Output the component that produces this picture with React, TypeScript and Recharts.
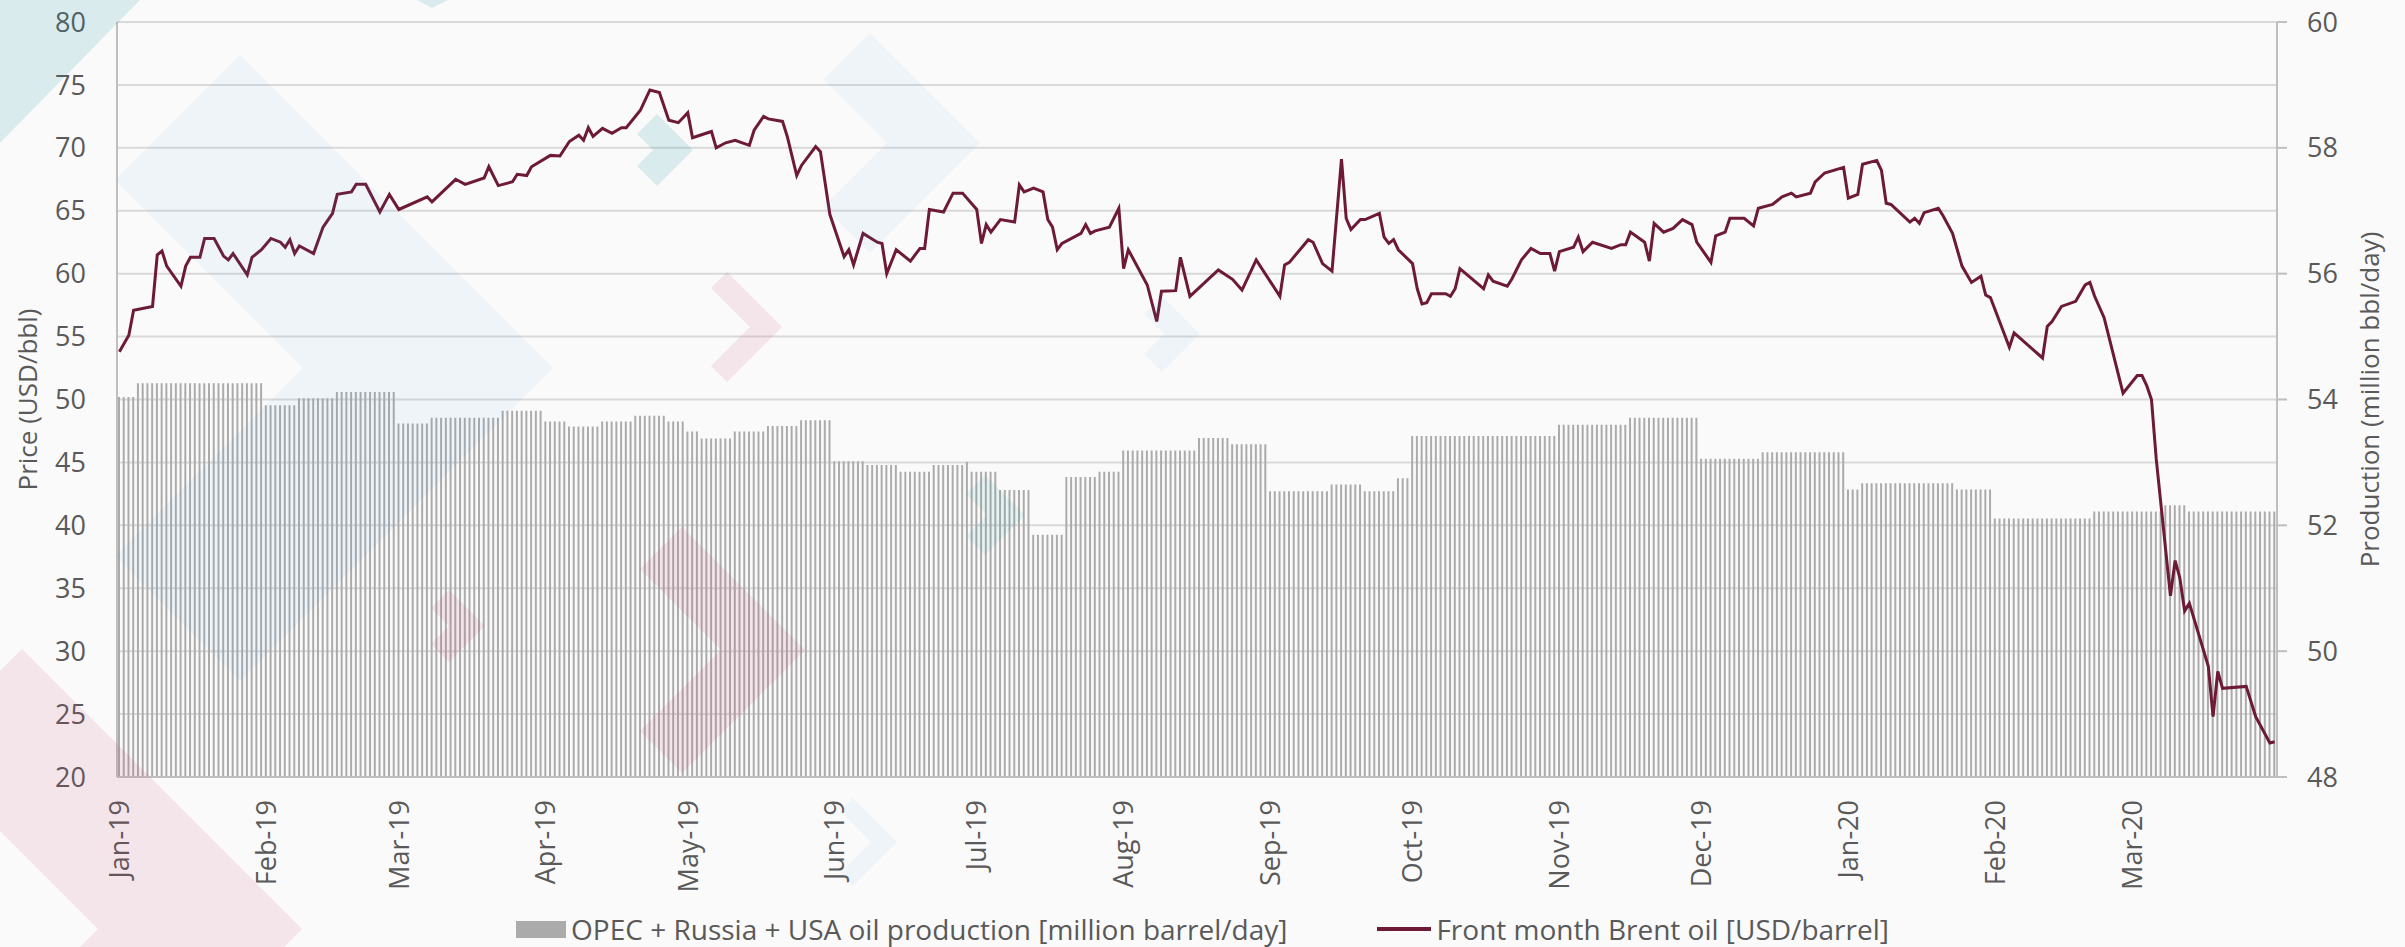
import React from "react";
import {
  Bar,
  CartesianGrid,
  ComposedChart,
  Legend,
  Line,
  XAxis,
  YAxis,
} from "recharts";

const FIRST_DAY = Date.UTC(2019, 0, 1);
const DAY_COUNT = 456;

const monthLabels = [
  "Jan-19", "Feb-19", "Mar-19", "Apr-19", "May-19", "Jun-19", "Jul-19", "Aug-19",
  "Sep-19", "Oct-19", "Nov-19", "Dec-19", "Jan-20", "Feb-20", "Mar-20",
];

const priceTicks = [20, 25, 30, 35, 40, 45, 50, 55, 60, 65, 70, 75, 80];
const productionTicks = [48, 50, 52, 54, 56, 58, 60];

// production level, held from each start day (offset from 1 Jan 2019) until the next one
const productionFromDay = [
  0, 4, 31, 38, 46, 59, 66, 81, 90, 95, 102, 109, 116, 120, 123, 130, 137, 144,
  151, 158, 165, 172, 179, 180, 186, 193, 200, 207, 212, 228, 235, 243, 256, 263,
  270, 273, 304, 319, 334, 347, 365, 368, 388, 396, 417, 432, 437,
];
const productionValue = [
  54.04, 54.26, 53.91, 54.02, 54.12, 53.62, 53.71, 53.82, 53.65, 53.57, 53.65, 53.74,
  53.65, 53.49, 53.38, 53.49, 53.58, 53.67, 53.02, 52.96, 52.85, 52.96, 53.01, 52.85,
  52.56, 51.85, 52.77, 52.85, 53.19, 53.39, 53.29, 52.54, 52.65, 52.54, 52.75, 53.42,
  53.6, 53.71, 53.06, 53.16, 52.57, 52.67, 52.57, 52.11, 52.22, 52.32, 52.22,
];

// front month Brent, day offset from 1 Jan 2019
const brentDay = [
  0, 2, 3, 7, 8, 9, 10, 13, 14, 15, 17, 18, 20, 22, 23, 24, 27, 28, 30, 32, 34, 35,
  36, 37, 38, 41, 43, 45, 46, 49, 50, 52, 55, 57, 59, 65, 66, 71, 73, 77, 78, 80,
  83, 84, 86, 87, 91, 93, 95, 97, 98, 99, 100, 102, 104, 106, 107, 110, 112, 114,
  116, 118, 120, 121, 125, 126, 128, 130, 133, 134, 136, 137, 140, 141, 143, 144,
  147, 148, 150, 153, 154, 155, 157, 160, 161, 162, 164, 167, 169, 170, 171, 174,
  176, 178, 181, 182, 183, 184, 186, 189, 190, 191, 193, 195, 196, 197, 198, 199,
  203, 204, 205, 206, 209, 211, 212, 213, 217, 219, 220, 223, 224, 226, 232, 235,
  237, 240, 245, 246, 247, 251, 252, 254, 256, 258, 259, 260, 262, 263, 266, 267,
  268, 269, 270, 273, 274, 275, 276, 277, 280, 281, 282, 283, 288, 289, 290, 293,
  294, 296, 298, 300, 302, 303, 304, 307, 308, 309, 311, 315, 317, 318, 319, 322,
  323, 324, 326, 328, 330, 332, 333, 336, 337, 339, 340, 343, 345, 346, 349, 351,
  353, 354, 357, 358, 360, 364, 365, 367, 368, 371, 372, 373, 374, 378, 379, 380,
  381, 384, 385, 387, 389, 391, 393, 394, 395, 399, 400, 406, 407, 408, 410, 413,
  415, 416, 417, 419, 423, 426, 427, 428, 429, 430, 433, 434, 435, 436, 437, 441,
  442, 443, 444, 449, 451, 454, 455,
];
const brentPrice = [
  53.8, 55.1, 57.1, 57.4, 61.5, 61.8, 60.6, 59.0, 60.6, 61.3, 61.3, 62.8, 62.8, 61.4,
  61.1, 61.6, 59.9, 61.3, 61.9, 62.8, 62.5, 62.1, 62.7, 61.6, 62.2, 61.6, 63.7, 64.8,
  66.3, 66.5, 67.1, 67.1, 64.9, 66.3, 65.1, 66.1, 65.7, 67.5, 67.1, 67.6, 68.5, 67.0,
  67.3, 67.9, 67.8, 68.5, 69.4, 69.35, 70.5, 71.0, 70.6, 71.6, 70.9, 71.55, 71.15,
  71.6, 71.6, 73.0, 74.6, 74.4, 72.2, 72.0, 72.8, 70.8, 71.3, 70.0, 70.4, 70.6, 70.2,
  71.4, 72.5, 72.3, 72.1, 70.9, 67.8, 68.6, 70.1, 69.7, 64.7, 61.35, 61.9, 60.7, 63.2,
  62.5, 62.4, 60.0, 61.9, 61.0, 62.0, 62.0, 65.1, 64.9, 66.4, 66.4, 65.1, 62.4, 63.9,
  63.3, 64.3, 64.1, 67.05, 66.5, 66.8, 66.5, 64.3, 63.7, 61.9, 62.4, 63.2, 63.9, 63.2,
  63.4, 63.7, 65.2, 60.4, 61.9, 59.1, 56.2, 58.6, 58.65, 61.3, 58.2, 60.3, 59.55,
  58.7, 61.1, 58.2, 60.7, 60.9, 62.7, 62.5, 60.8, 60.2, 69.1, 64.4, 63.5, 64.3, 64.3,
  64.8, 62.9, 62.4, 62.7, 61.9, 60.8, 58.8, 57.6, 57.7, 58.4, 58.4, 58.2, 58.8, 60.4,
  58.8, 59.9, 59.4, 59.0, 59.6, 61.1, 62.0, 61.6, 61.6, 60.2, 61.75, 62.1, 62.9,
  61.75, 62.5, 62.0, 62.3, 62.3, 63.3, 62.5, 61.0, 64.0, 63.3, 63.6, 64.3, 63.9, 62.5,
  60.9, 63.0, 63.3, 64.4, 64.4, 63.8, 65.2, 65.5, 66.1, 66.4, 66.1, 66.4, 67.3, 68.0,
  68.45, 66.0, 66.3, 68.7, 69.0, 68.2, 65.6, 65.5, 64.1, 64.4, 64.0, 64.85, 65.2,
  64.6, 63.2, 60.6, 59.3, 59.8, 58.3, 58.1, 54.15, 55.3, 53.3, 55.8, 56.2, 57.4, 57.8,
  59.1, 59.3, 58.2, 56.5, 50.5, 51.9, 51.9, 51.1, 50.0, 45.3, 34.4, 37.2, 35.8, 33.2,
  33.8, 28.8, 24.8, 28.4, 27.05, 27.2, 24.8, 22.7, 22.8,
];

const productionName = "OPEC + Russia + USA oil production [million barrel/day]";
const brentName = "Front month Brent oil [USD/barrel]";

const dates = Array.from({ length: DAY_COUNT }, (_, i) =>
  new Date(FIRST_DAY + i * 86400000).toISOString().slice(0, 10)
);
const monthStarts = dates.filter((d) => d.endsWith("-01"));
const tickLabel: Record<string, string> = Object.fromEntries(
  monthStarts.map((d, i) => [d, monthLabels[i]])
);
const brentByDay = new Map(brentDay.map((d, i) => [d, brentPrice[i]]));

let seg = 0;
const rows = dates.map((date, i) => {
  while (seg + 1 < productionFromDay.length && productionFromDay[seg + 1] <= i) seg++;
  return {
    date,
    production: productionValue[seg],
    brent: brentByDay.has(i) ? brentByDay.get(i) : null,
  };
});

const TEXT = "#595959";
const AXIS = "#bfbfbf";
const BAR = "#ababab";
const LINE = "#6d1a36";

const MonthTick = (props: any) => {
  const { x, y, payload } = props;
  return (
    <text
      x={x}
      y={y}
      dy="0.36em"
      transform={`rotate(-90, ${x}, ${y})`}
      textAnchor="end"
      fill={TEXT}
      fontSize={27}
      fontFamily="Open Sans"
    >
      {tickLabel[payload.value]}
    </text>
  );
};

const LegendBox = () => (
  <div
    style={{
      display: "flex",
      justifyContent: "center",
      alignItems: "center",
      gap: 90,
      fontFamily: "Open Sans",
      fontSize: 28,
      color: TEXT,
      whiteSpace: "nowrap",
    }}
  >
    <span style={{ display: "flex", alignItems: "center" }}>
      <span style={{ width: 50, height: 17, background: BAR, marginRight: 5 }} />
      {productionName}
    </span>
    <span style={{ display: "flex", alignItems: "center" }}>
      <span style={{ width: 54, height: 4, background: LINE, marginRight: 5 }} />
      {brentName}
    </span>
  </div>
);

// decorative chevrons of the page background
const chevron = (tx: number, ty: number, h: number, t: number) =>
  [
    [tx - h, ty - h],
    [tx, ty],
    [tx - h, ty + h],
    [tx - h - t / 2, ty + h - t / 2],
    [tx - t, ty],
    [tx - h - t / 2, ty - h + t / 2],
  ]
    .map((p) => p.join(","))
    .join(" ");

const BLUE = "rgba(60,150,230,0.06)";
const PINK = "rgba(190,60,110,0.11)";
const TEAL = "rgba(30,150,170,0.14)";
const TEAL_SOFT = "rgba(30,150,170,0.09)";

const Decorations = () => (
  <svg
    width={2405}
    height={947}
    style={{ position: "absolute", left: 0, top: 0, pointerEvents: "none" }}
  >
    <polygon points="0,0 140,0 0,143" fill={TEAL} />
    <polygon points="417,0 448,0 432,8" fill={TEAL} />
    <polygon points={chevron(553, 368, 313, 250)} fill={BLUE} />
    <polygon points={chevron(980, 143, 110, 93)} fill={BLUE} />
    <polygon points={chevron(1200, 334, 38, 36)} fill={BLUE} />
    <polygon points={chevron(897, 842, 44, 26)} fill={BLUE} />
    <polygon points={chevron(302, 929, 280, 204)} fill={PINK} />
    <polygon points={chevron(805, 650, 123, 84)} fill={PINK} />
    <polygon points={chevron(485, 626, 36, 36)} fill={PINK} />
    <polygon points={chevron(782, 327, 55, 32)} fill={PINK} />
    <polygon points={chevron(693, 150, 36, 40)} fill={TEAL} />
    <polygon points={chevron(1025, 515, 40, 38)} fill={TEAL_SOFT} />
  </svg>
);

export default function App() {
  return (
    <div
      style={{
        position: "absolute",
        left: 0,
        top: 0,
        width: 2405,
        height: 947,
        background: "#fafafa",
        fontFamily: "Open Sans",
        overflow: "hidden",
      }}
    >
      <ComposedChart
        width={2405}
        height={947}
        data={rows}
        margin={{ top: 22, right: 0, bottom: 50, left: 0 }}
      >
        <CartesianGrid
          yAxisId="price"
          vertical={false}
          stroke="#d9d9d9"
          strokeWidth={2}
        />
        <XAxis
          dataKey="date"
          ticks={monthStarts}
          interval={0}
          height={120}
          tickLine={false}
          tickSize={0}
          tickMargin={23}
          axisLine={{ stroke: AXIS, strokeWidth: 2 }}
          tick={(p: any) => <MonthTick {...p} />}
        />
        <YAxis
          yAxisId="price"
          domain={[20, 80]}
          ticks={priceTicks}
          interval={0}
          width={117}
          tickLine={false}
          tickSize={10}
          tickMargin={21}
          axisLine={{ stroke: AXIS, strokeWidth: 2 }}
          tick={{ fill: TEXT, fontSize: 27, fontFamily: "Open Sans" }}
          label={{
            value: "Price (USD/bbl)",
            angle: -90,
            position: "insideLeft",
            offset: 28,
            style: { textAnchor: "middle", fill: TEXT, fontSize: 26, fontFamily: "Open Sans" },
          }}
        />
        <YAxis
          yAxisId="production"
          orientation="right"
          domain={[48, 60]}
          ticks={productionTicks}
          interval={0}
          width={128}
          tickSize={10}
          tickMargin={20}
          tickLine={{ stroke: AXIS, strokeWidth: 2 }}
          axisLine={{ stroke: AXIS, strokeWidth: 2 }}
          tick={{ fill: TEXT, fontSize: 27, fontFamily: "Open Sans" }}
          label={{
            value: "Production (million bbl/day)",
            angle: -90,
            position: "insideRight",
            offset: 35,
            style: { textAnchor: "middle", fill: TEXT, fontSize: 26, fontFamily: "Open Sans" },
          }}
        />
        <Bar
          yAxisId="production"
          dataKey="production"
          name={productionName}
          fill={BAR}
          barSize={2}
          isAnimationActive={false}
        />
        <Line
          yAxisId="price"
          dataKey="brent"
          name={brentName}
          type="linear"
          stroke={LINE}
          strokeWidth={3}
          dot={false}
          activeDot={false}
          connectNulls
          isAnimationActive={false}
        />
        <Legend
          layout="horizontal"
          verticalAlign="middle"
          align="center"
          wrapperStyle={{ top: 910, left: 0, width: 2405 }}
          content={() => <LegendBox />}
        />
      </ComposedChart>
      <Decorations />
    </div>
  );
}
